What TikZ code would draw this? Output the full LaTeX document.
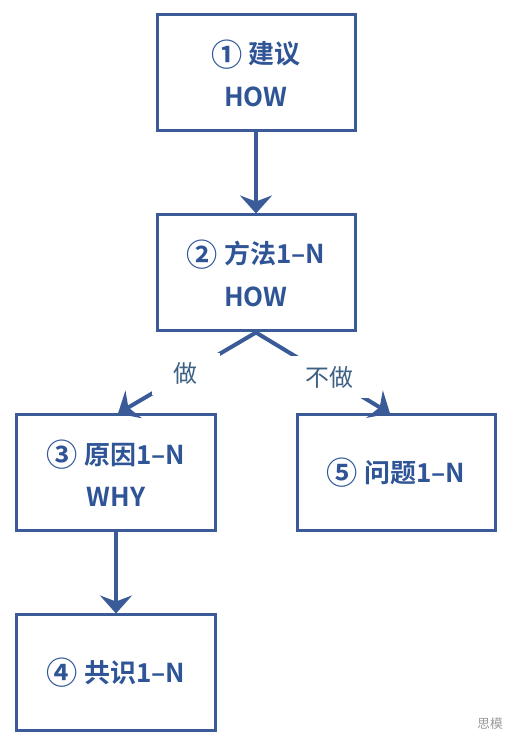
\documentclass[tikz,border=0pt]{standalone}
\usepackage{fontspec}
\setmainfont{Noto Sans CJK SC}[BoldFont={Noto Sans CJK SC Bold}]
\usepackage{xcolor}
\usepackage{tikz}
\usetikzlibrary{arrows.meta,positioning,calc}
\definecolor{boxline}{HTML}{3A5A98}
\definecolor{boxtext}{HTML}{2F5597}
\definecolor{lbltext}{HTML}{3D6185}
\definecolor{mark}{HTML}{9A9A9A}
\newcommand{\circnum}[1]{\raisebox{-0.08em}{\scalebox{1.2}{#1}}}

\begin{document}
\begin{tikzpicture}[
  stagebox/.style={draw=boxline,line width=0.075cm,align=center,
                minimum height=2.9cm,minimum width=4.95cm,text=boxtext,
                font=\fontsize{18.5}{30}\selectfont\bfseries},
  arr/.style={-{Stealth[length=0.45cm,width=0.8cm,inset=0.15cm]},line width=0.1cm,boxline},
  lbl/.style={font=\fontsize{17}{20}\selectfont,text=lbltext,fill=white,
              inner xsep=0.55cm,inner ysep=0.25cm}
]
  \useasboundingbox[fill=white] (0,0) rectangle (12.9,18.75);
  \node[stagebox] (advice)    at (6.4,16.925) {\circnum{①} 建议\\HOW};
  \node[stagebox] (method)    at (6.4,11.925) {\circnum{②} 方法1–N\\HOW};
  \node[stagebox] (reason)    at (2.9,6.925)  {\circnum{③} 原因1–N\\WHY};
  \node[stagebox] (problem)   at (9.9,6.925)  {\circnum{⑤} 问题1–N};
  \node[stagebox] (consensus) at (2.9,1.925)  {\circnum{④} 共识1–N};
  \draw[arr] (advice) -- (method);
  \draw[arr] (method.south) -- node[lbl,pos=0.51]{做} ($(reason.north)+(0.05,0)$);
  \draw[arr] (method.south) -- node[lbl,pos=0.55]{不做} ($(problem.north)+(-0.15,0)$);
  \draw[arr] (reason) -- (consensus);
  % watermark
  \node[font=\fontsize{9}{10}\selectfont,text=mark] (sign) at (12.25,0.65) {思模};
\end{tikzpicture}
\end{document}
